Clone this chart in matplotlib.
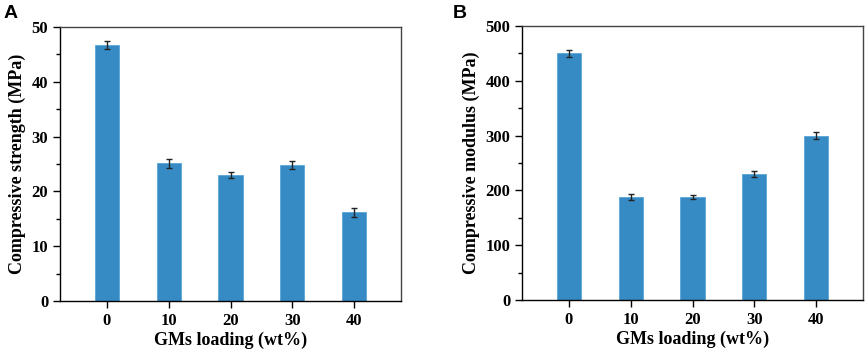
import matplotlib.pyplot as plt
import numpy as np
from matplotlib.ticker import MultipleLocator

loading = ['0', '10', '20', '30', '40']
strength = [46.7, 25.1, 23.0, 24.8, 16.2]
strength_err = [0.8, 0.9, 0.6, 0.7, 0.8]
modulus = [450, 188, 188, 230, 300]
modulus_err = [6, 5, 4, 6, 6]

plt.rcParams['font.family'] = 'Liberation Serif'
plt.rcParams['font.weight'] = 'bold'

fig = plt.figure(figsize=(8.65, 3.52), dpi=100)
ax_a = fig.add_axes([60 / 865, 51 / 352, 341 / 865, 274 / 352])
ax_b = fig.add_axes([522 / 865, 52 / 352, 341 / 865, 274 / 352])


def draw_panel(ax, values, errs, ymax, major, ylabel):
    x = np.arange(len(loading))
    ax.bar(x, values, width=0.39, color='#368bc4', edgecolor='#5aa6d8', linewidth=0.6,
           yerr=errs, error_kw=dict(ecolor='#222222', elinewidth=1.0, capsize=2.2, capthick=1.0))
    ax.set_xlim(-0.76, 4.76)
    ax.set_ylim(0, ymax)
    ax.set_xticks(x)
    ax.set_xticklabels(loading)
    ax.yaxis.set_major_locator(MultipleLocator(major))
    ax.yaxis.set_minor_locator(MultipleLocator(major / 2))
    ax.tick_params(axis='both', which='major', direction='out', length=5, width=1.0, labelsize=12)
    ax.tick_params(axis='y', which='minor', direction='out', length=3, width=1.0)
    for lab in ax.get_xticklabels() + ax.get_yticklabels():
        lab.set_fontweight('bold')
    ax.spines['left'].set_color('black')
    ax.spines['bottom'].set_color('black')
    ax.spines['top'].set_color('#444444')
    ax.spines['right'].set_color('#444444')
    for s in ax.spines.values():
        s.set_linewidth(1.0)
    ax.set_xlabel('GMs loading (wt%)', fontsize=13, fontweight='bold', labelpad=2)
    ax.set_ylabel(ylabel, fontsize=13, fontweight='bold', labelpad=4)


draw_panel(ax_a, strength, strength_err, 50, 10, 'Compressive strength (MPa)')
draw_panel(ax_b, modulus, modulus_err, 500, 100, 'Compressive modulus (MPa)')

fig.text(4 / 865, 1 - 18 / 352, 'A', fontsize=14, fontweight='bold', family='Liberation Sans')
fig.text(453 / 865, 1 - 18 / 352, 'B', fontsize=14, fontweight='bold', family='Liberation Sans')

fig.savefig('out.png', dpi=100)
